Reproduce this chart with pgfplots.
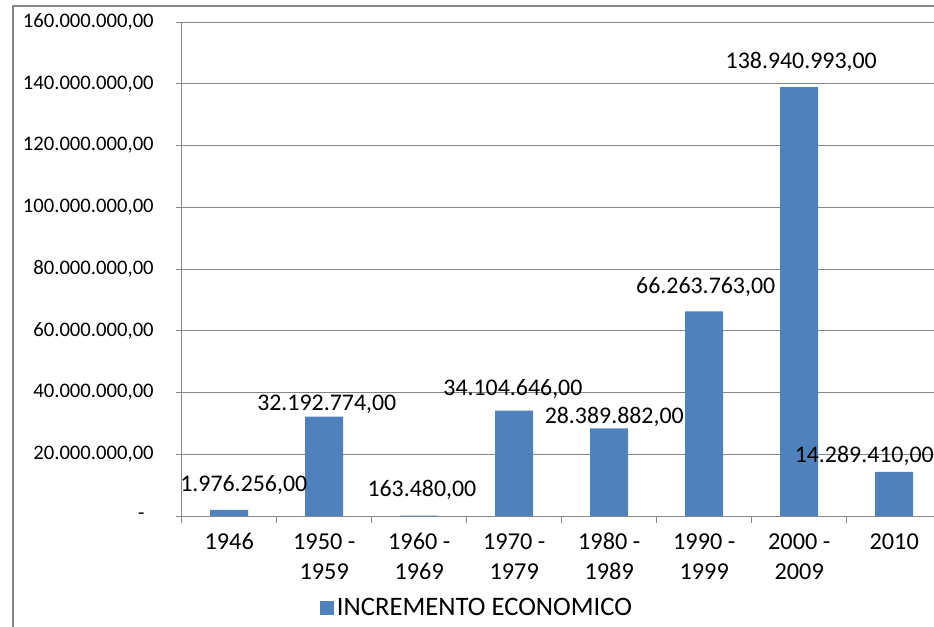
\documentclass[border=0pt]{standalone}
\usepackage{pgfplots}
\pgfplotsset{compat=1.18}
\usepackage{fontspec}
\setmainfont{Carlito}
\definecolor{barblue}{HTML}{4F81BD}
\definecolor{gridgray}{HTML}{868686}
\pgfplotstableread{
x val label dx dy
0 1976256 1.976.256,00 10.9 13.5
1 32192774 32.192.774,00 1.9 4.5
2 163480 163.480,00 2 14.25
3 34104646 34.104.646,00 -1 11.25
4 28389882 28.389.882,00 3.75 3.75
5 66263763 66.263.763,00 1.1 13.5
6 138940993 138.940.993,00 1.5 14.25
7 14289410 14.289.410,00 -22.5 6.75
}\datatable
\begin{document}
\begin{tikzpicture}
\path[use as bounding box, clip] (0pt,0pt) rectangle (700.5pt,469.5pt);
\draw[gridgray, line width=1pt] (9.75pt,-40pt) -- (9.75pt,465pt) -- (800pt,465pt);
\begin{axis}[
  at={(136.3pt,82.5pt)}, anchor=south west,
  scale only axis, width=570pt, height=370.5pt,
  xmin=-0.5, xmax=7.5, ymin=0, ymax=160000000,
  clip=false,
  axis x line*=bottom, axis y line*=left,
  axis line style={gridgray, line width=0.75pt, -},
  every outer x axis line/.append style={-},
  every outer y axis line/.append style={-},
  separate axis lines,
  scaled y ticks=false,
  xtick={0,...,7},
  xticklabels={1946, {1950 -\\1959}, {1960 -\\1969}, {1970 -\\1979}, {1980 -\\1989}, {1990 -\\1999}, {2000 -\\2009}, 2010},
  minor xtick={-0.5,0.5,...,7.5},
  every major x tick/.append style={draw=none},
  tick align=outside,
  major tick length=4.5pt, minor tick length=5.25pt,
  tick style={gridgray, line width=0.75pt},
  ytick={0,20000000,40000000,60000000,80000000,100000000,120000000,140000000,160000000},
  yticklabels={{-\kern7pt}, {20.000.000,00}, {40.000.000,00}, {60.000.000,00}, {80.000.000,00}, {100.000.000,00}, {120.000.000,00}, {140.000.000,00}, {160.000.000,00}},
  ymajorgrids, grid style={gridgray, line width=0.75pt},
  xticklabel style={font=\fontsize{18.2}{22.5}\selectfont, align=center, yshift=-5pt},
  yticklabel style={font=\fontsize{15.5}{18}\selectfont, xshift=-13pt},
  ybar, bar width=28.5pt, bar shift=0pt,
  point meta=explicit symbolic,
  nodes near coords,
  visualization depends on={\thisrow{dx} \as \dx},
  visualization depends on={\thisrow{dy} \as \dy},
  nodes near coords style={font=\fontsize{17.9}{21}\selectfont, anchor=base, inner sep=0pt, yshift=\dy pt, xshift=\dx pt, text=black},
  legend style={draw=none, at={(0.182,-0.186)}, anchor=west, inner sep=0pt, font=\fontsize{20}{24}\selectfont},
  legend image code/.code={\fill[barblue] (0pt,-5.25pt) rectangle (10.5pt,5.25pt);},
]
\addplot[fill=barblue, draw=none] table[x=x, y=val, meta=label] {\datatable};
\legend{INCREMENTO ECONOMICO}
\end{axis}
\end{tikzpicture}
\end{document}
